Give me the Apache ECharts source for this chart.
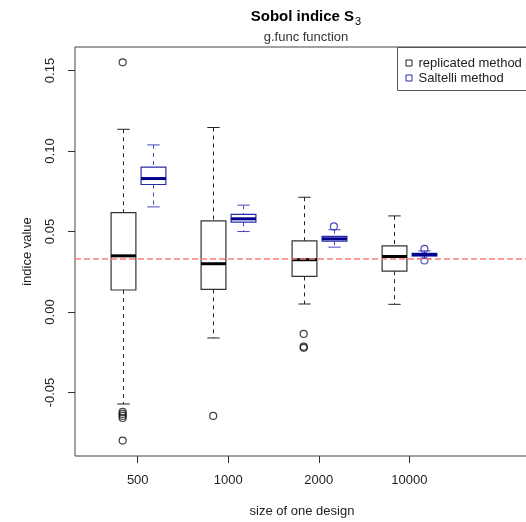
<!DOCTYPE html>
<html>
<head>
<meta charset="utf-8">
<script src="https://cdn.jsdelivr.net/npm/echarts@6/dist/echarts.min.js"></script>
<style>
html,body{margin:0;padding:0;background:#fff;}
#chart{width:526px;height:522px;}
</style>
</head>
<body>
<div id="chart"></div>
<script>
// ---- data ----
const categories = ['500', '1000', '2000', '10000'];
// [lower whisker, Q1, median, Q3, upper whisker]
const replicatedBoxes = [
  [-0.0571, 0.0137, 0.0349, 0.0618, 0.1135],
  [-0.0161, 0.0141, 0.0300, 0.0566, 0.1146],
  [ 0.0050, 0.0221, 0.0325, 0.0442, 0.0713],
  [ 0.0048, 0.0254, 0.0345, 0.0411, 0.0597]
];
const saltelliBoxes = [
  [0.0653, 0.0792, 0.0829, 0.0900, 0.1038],
  [0.0500, 0.0558, 0.0579, 0.0606, 0.0664],
  [0.0403, 0.0440, 0.0455, 0.0470, 0.0511],
  [0.0332, 0.0348, 0.0356, 0.0364, 0.0380]
];
// [group index, value]
const replicatedOutliers = [
  [0, 0.1551], [0, -0.0620], [0, -0.0633], [0, -0.0645], [0, -0.0658], [0, -0.0798],
  [1, -0.0645],
  [2, -0.0136], [2, -0.0215], [2, -0.0222]
];
const saltelliOutliers = [
  [2, 0.0532],
  [3, 0.0392], [3, 0.0320]
];
const yTicks = [-0.05, 0.00, 0.05, 0.10, 0.15];
const trueValue = 0.033;
const seriesNames = ['replicated method', 'Saltelli method'];

// ---- layout / style ----
const OFFSET = 1 / 6;
const BOX_HALF = 0.137;
const FONT = '"Liberation Sans", Arimo, Helvetica, Arial, sans-serif';
const FS = 13;

function boxData(boxes, sign) {
  return boxes.map((b, i) => [i + 1 + sign * OFFSET].concat(b));
}
function outData(outs, sign) {
  return outs.map(o => [o[0] + 1 + sign * OFFSET, o[1]]);
}

function makeRenderer(st) {
  return function (params, api) {
    const x = api.value(0);
    const lo = api.coord([x, api.value(1)]);
    const q1 = api.coord([x, api.value(2)]);
    const md = api.coord([x, api.value(3)]);
    const q3 = api.coord([x, api.value(4)]);
    const hi = api.coord([x, api.value(5)]);
    const hw = api.size([BOX_HALF, 0])[0];
    const cw = hw / 2;
    const cx = Math.round(lo[0]) + 0.5;
    const dash = { stroke: st.whisker, lineWidth: 1, lineDash: [4, 4] };
    const solid = { stroke: st.whisker, lineWidth: 1 };
    return {
      type: 'group',
      children: [
        { type: 'line', shape: { x1: cx, y1: hi[1], x2: cx, y2: q3[1] }, style: dash },
        { type: 'line', shape: { x1: cx, y1: q1[1], x2: cx, y2: lo[1] }, style: dash },
        { type: 'line', shape: { x1: cx - cw, y1: hi[1], x2: cx + cw, y2: hi[1] }, style: solid },
        { type: 'line', shape: { x1: cx - cw, y1: lo[1], x2: cx + cw, y2: lo[1] }, style: solid },
        { type: 'rect', shape: { x: cx - hw, y: q3[1], width: 2 * hw, height: q1[1] - q3[1] },
          style: { fill: 'rgba(0,0,0,0)', stroke: st.border, lineWidth: 1.2 } },
        { type: 'line', shape: { x1: cx - hw, y1: md[1], x2: cx + hw, y2: md[1] },
          style: { stroke: st.median, lineWidth: 3 } }
      ]
    };
  };
}

const blackStyle = { whisker: '#222', border: '#333', median: '#000' };
const blueStyle = { whisker: '#4848c0', border: '#2a2ab0', median: '#00008b' };

const chart = echarts.init(document.getElementById('chart'), null, { renderer: 'canvas' });

const option = {
  backgroundColor: '#fff',
  animation: false,
  textStyle: { fontFamily: FONT },
  title: {
    text: 'Sobol indice S{sub|3}',
    subtext: 'g.func function',
    left: 301,
    top: 2,
    textAlign: 'center',
    itemGap: 6,
    textStyle: {
      fontFamily: FONT, fontSize: 15, fontWeight: 'bold', color: '#000',
      rich: { sub: { fontFamily: FONT, fontSize: 11, fontWeight: 'normal', color: '#000', verticalAlign: 'bottom', padding: [9, 0, 0, 1] } }
    },
    subtextStyle: { fontFamily: FONT, fontSize: FS, color: '#333' }
  },
  grid: {
    left: 75, top: 47, right: -3, bottom: 66,
    show: true, borderColor: '#444', borderWidth: 1, backgroundColor: 'transparent',
    containLabel: false, outerBoundsMode: 'none'
  },
  xAxis: {
    type: 'value',
    min: 0.307, max: 5.322,
    name: 'size of one design',
    nameLocation: 'middle',
    nameGap: 49,
    nameTextStyle: { fontFamily: FONT, fontSize: FS, color: '#222' },
    axisLine: { show: false, onZero: false },
    splitLine: { show: false },
    axisTick: { show: true, length: 7, inside: false, lineStyle: { color: '#333' },
      customValues: categories.map((c, i) => i + 1) },
    axisLabel: { margin: 18, fontFamily: FONT, fontSize: FS, color: '#222',
      customValues: categories.map((c, i) => i + 1),
      formatter: v => categories[Math.round(v) - 1] || '' }
  },
  yAxis: {
    type: 'value',
    min: -0.0894, max: 0.1646,
    name: 'indice value',
    nameLocation: 'middle',
    nameGap: 41,
    nameTextStyle: { fontFamily: FONT, fontSize: FS, color: '#222' },
    axisLine: { show: false, onZero: false },
    splitLine: { show: false },
    axisTick: { show: true, length: 7, lineStyle: { color: '#333' }, customValues: yTicks },
    axisLabel: { rotate: 90, margin: 18, fontFamily: FONT, fontSize: FS, color: '#222',
      customValues: yTicks, formatter: v => v.toFixed(2) }
  },
  series: [
    {
      name: seriesNames[0], type: 'custom', renderItem: makeRenderer(blackStyle),
      data: boxData(replicatedBoxes, -1), z: 2, clip: false
    },
    {
      name: seriesNames[1], type: 'custom', renderItem: makeRenderer(blueStyle),
      data: boxData(saltelliBoxes, 1), z: 2, clip: false
    },
    {
      type: 'scatter', data: outData(replicatedOutliers, -1), symbol: 'circle', symbolSize: 7,
      itemStyle: { color: 'rgba(0,0,0,0)', borderColor: '#111', borderWidth: 1.2 }, z: 3
    },
    {
      type: 'scatter', data: outData(saltelliOutliers, 1), symbol: 'circle', symbolSize: 7,
      itemStyle: { color: 'rgba(0,0,0,0)', borderColor: '#2020b0', borderWidth: 1.2 }, z: 3,
      markLine: {
        silent: true, symbol: 'none', label: { show: false }, precision: 4,
        lineStyle: { color: '#ff7b7b', width: 1.6, type: [6, 3] },
        data: [{ yAxis: trueValue }]
      }
    }
  ],
  graphic: [
    {
      type: 'group', left: 397, top: 47, z: 10,
      children: [
        { type: 'rect', shape: { x: 0, y: 0, width: 145, height: 43 },
          style: { fill: '#fff', stroke: '#555', lineWidth: 1 } },
        { type: 'rect', shape: { x: 8.5, y: 12.5, width: 6, height: 6 },
          style: { fill: '#fff', stroke: '#222', lineWidth: 1 } },
        { type: 'text', x: 21, y: 15.5, style: { text: seriesNames[0], fontFamily: FONT, fontSize: FS,
          fill: '#222', verticalAlign: 'middle' } },
        { type: 'rect', shape: { x: 8.5, y: 27.5, width: 6, height: 6 },
          style: { fill: '#fff', stroke: '#2a2ab0', lineWidth: 1 } },
        { type: 'text', x: 21, y: 30.5, style: { text: seriesNames[1], fontFamily: FONT, fontSize: FS,
          fill: '#222', verticalAlign: 'middle' } }
      ]
    }
  ]
};
chart.setOption(option);
</script>
</body>
</html>
